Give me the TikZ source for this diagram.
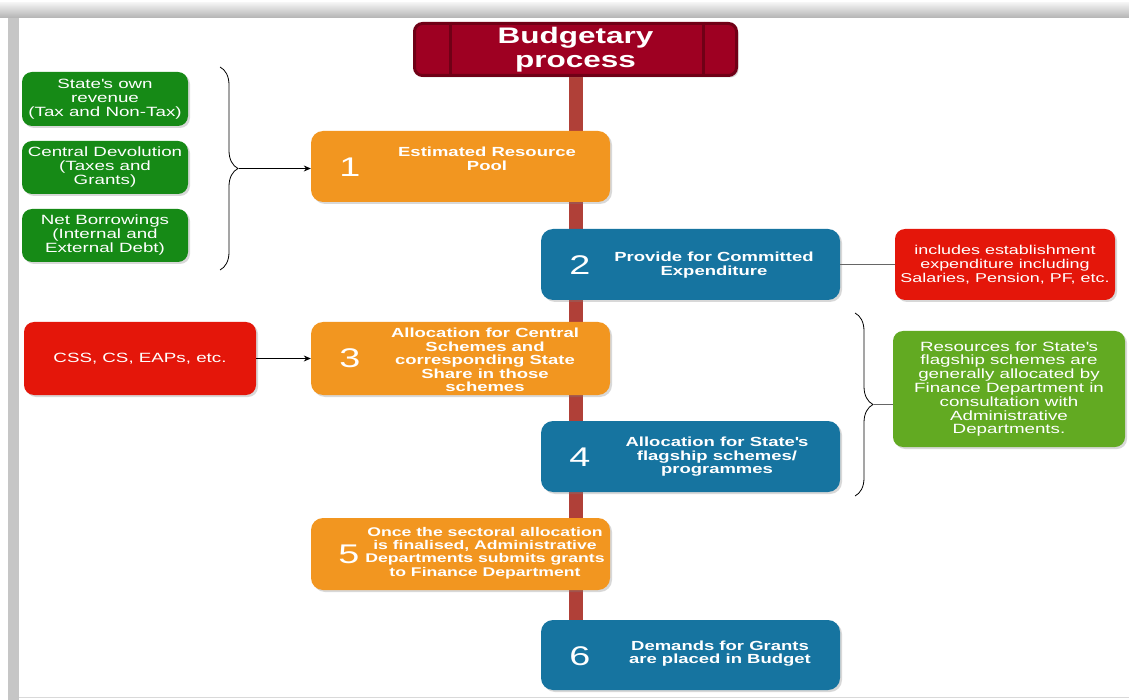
\documentclass[tikz,border=0pt]{standalone}
\usepackage{fontspec}
\setmainfont{Liberation Sans}[FakeStretch=1.4]
\usetikzlibrary{arrows.meta}
\usetikzlibrary{shadows}
\usetikzlibrary{decorations.pathreplacing}
\usetikzlibrary{backgrounds}

\definecolor{stepOrange}{RGB}{242,150,32}
\definecolor{stepBlue}{RGB}{22,116,160}
\definecolor{titleRed}{RGB}{158,0,34}
\definecolor{titleEdge}{RGB}{112,0,22}
\definecolor{spineRed}{RGB}{176,64,56}
\definecolor{srcGreen}{RGB}{22,138,22}
\definecolor{noteGreen}{RGB}{98,170,34}
\definecolor{noteRed}{RGB}{228,22,10}

\tikzset{
  stepbox/.style={rounded corners=12pt, minimum width=299pt, minimum height=71pt,
    drop shadow={opacity=0.3, shadow xshift=2pt, shadow yshift=-2pt}},
  orangestep/.style={stepbox, fill=stepOrange},
  bluestep/.style={stepbox, fill=stepBlue},
  steptext/.style={text=white, font=\bfseries\fontsize{13.2}{13.6}\selectfont, align=center, inner sep=0pt},
  stepnum/.style={text=white, font=\fontsize{27}{27}\selectfont, inner sep=0pt},
  sidebox/.style={rounded corners=10pt, text=white, align=center, inner sep=0pt,
    font=\fontsize{13.4}{14}\selectfont,
    drop shadow={opacity=0.3, shadow xshift=2pt, shadow yshift=-2pt}},
  bracket/.style={decorate, decoration={brace, amplitude=18pt}, line width=0.8pt},
  flowarrow/.style={-{Stealth[length=7pt,width=6pt]}, line width=0.7pt},
  spine/.style={line width=14pt, spineRed}
}

\begin{document}
\begin{tikzpicture}[x=1pt, y=-1pt]
    \useasboundingbox (0,0) rectangle (1129,700);

    % title
    \node[fill=titleRed, draw=titleEdge, line width=3pt, rounded corners=8pt,
          minimum width=322pt, minimum height=52pt, text=white, align=center,
          font=\bfseries\fontsize{22.5}{24}\selectfont,
          drop shadow={opacity=0.3, shadow xshift=2pt, shadow yshift=-2pt}]
          (title) at (575.5,49.5) {Budgetary\\process};
    \draw[titleEdge, line width=3pt] ([xshift=37pt]title.north west) -- ([xshift=37pt]title.south west);
    \draw[titleEdge, line width=3pt] ([xshift=-35pt]title.north east) -- ([xshift=-35pt]title.south east);

    % steps
    \node[orangestep] (s1) at (460.5,166.5) {};
    \node[bluestep] (s2) at (690.5,264.5) {};
    \node[orangestep, minimum height=73pt] (s3) at (460.5,358.5) {};
    \node[bluestep] (s4) at (690.5,456.5) {};
    \node[orangestep, minimum height=72pt] (s5) at (460.5,554) {};
    \node[bluestep, minimum height=70pt] (s6) at (690.5,655) {};

    \node[stepnum] (n1) at (350,167) {1};
    \node[stepnum] (n2) at (580,265) {2};
    \node[stepnum] (n3) at (350,358) {3};
    \node[stepnum] (n4) at (580,457) {4};
    \node[stepnum] (n5) at (349,554) {5};
    \node[stepnum] (n6) at (580,656) {6};

    \node[steptext] (t1) at (487,159) {Estimated Resource\\Pool};
    \node[steptext] (t2) at (714,265) {Provide for Committed\\Expenditure};
    \node[steptext] (t3) at (485,360) {Allocation for Central\\Schemes and\\corresponding State\\Share in those\\schemes};
    \node[steptext] (t4) at (717,457) {Allocation for State\textquotesingle s\\flagship schemes/\\programmes};
    \node[steptext, font=\bfseries\fontsize{12.6}{13.3}\selectfont] (t5) at (485,553) {Once the sectoral allocation\\is finalised, Administrative\\Departments submits grants\\to Finance Department};
    \node[steptext] (t6) at (720,653.5) {Demands for Grants\\are placed in Budget};

    % sources of the pool
    \node[sidebox, fill=srcGreen, minimum width=166pt, minimum height=54pt] (g1) at (105,99) {State\textquotesingle s own\\revenue\\(Tax and Non-Tax)};
    \node[sidebox, fill=srcGreen, minimum width=166pt, minimum height=53pt] (g2) at (105,167.5) {Central Devolution\\(Taxes and\\Grants)};
    \node[sidebox, fill=srcGreen, minimum width=166pt, minimum height=53pt] (g3) at (105,235.5) {Net Borrowings\\(Internal and\\External Debt)};

    % notes
    \node[sidebox, fill=noteRed, minimum width=232pt, minimum height=73pt] (css) at (140,358.5) {CSS, CS, EAPs, etc.};
    \node[sidebox, fill=noteRed, minimum width=220pt, minimum height=71pt, font=\fontsize{12.8}{14}\selectfont] (est) at (1005,264.5) {includes establishment\\expenditure including\\Salaries, Pension, PF, etc.};
    \node[sidebox, fill=noteGreen, minimum width=232pt, minimum height=116pt, font=\fontsize{13.4}{13.8}\selectfont] (flag) at (1009,389) {Resources for State\textquotesingle s\\flagship schemes are\\generally allocated by\\Finance Department in\\consultation with\\Administrative\\Departments.};

    % braces
    \draw[bracket] (220,67) -- (220,270);
    \coordinate (lbtip) at (239,168.5);
    \draw[bracket] (855,313) -- (855,496);
    \coordinate (rbtip) at (874,404.5);

    % connectors
    \draw[flowarrow] (lbtip) -- (lbtip -| s1.west);
    \draw[flowarrow] (css) -- (s3);
    \draw[gray!80!black, line width=0.7pt] (s2) -- (est);
    \draw[gray!80!black, line width=0.7pt] (rbtip) -- (rbtip -| flag.west);

    \begin{scope}[on background layer]
        \fill[white] (0,0) rectangle (1129,700);
        \shade[top color=gray!10, bottom color=gray!60] (0,3) rectangle (1129,18);
        \fill[gray!45] (8,18) rectangle (19,700);
        \draw[gray!30, line width=1pt] (19,697) -- (1129,697);
        \draw[spine] (title.south) -- (title.south |- s6.north);
    \end{scope}

\end{tikzpicture}
\end{document}
